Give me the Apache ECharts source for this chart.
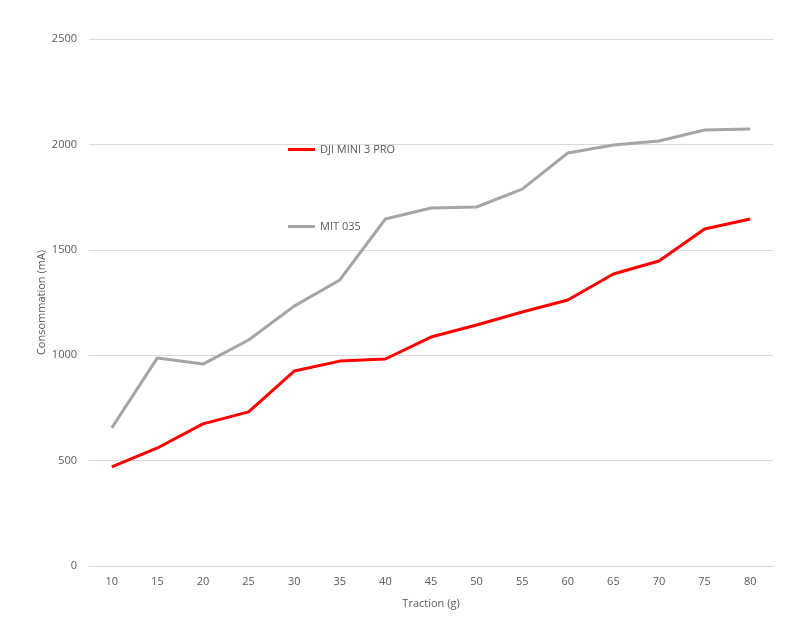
<!DOCTYPE html>
<html>
<head>
<meta charset="utf-8">
<script src="https://cdn.jsdelivr.net/npm/echarts@6/dist/echarts.min.js"></script>
<style>
  html, body { margin: 0; padding: 0; background: #fff; }
  #chart { width: 800px; height: 639px; }
</style>
</head>
<body>
<div id="chart"></div>
<script>
  const traction = ['10', '15', '20', '25', '30', '35', '40', '45', '50', '55', '60', '65', '70', '75', '80'];
  const djiMini3Pro = [470, 560, 674, 731, 925, 972, 982, 1086, 1143, 1205, 1262, 1385, 1447, 1599, 1646];
  const mit035 = [655, 987, 958, 1072, 1233, 1357, 1646, 1698, 1703, 1788, 1959, 1997, 2016, 2068, 2073];

  const font = '"Open Sans", "Noto Sans", sans-serif';
  const chart = echarts.init(document.getElementById('chart'));
  chart.setOption({
    animation: false,
    textStyle: { fontFamily: font },
    grid: { left: 89, right: 27, top: 39, bottom: 73, containLabel: false },
    legend: {
      orient: 'vertical',
      left: 283,
      top: 139,
      itemGap: 66,
      itemWidth: 27,
      itemHeight: 3,
      icon: 'rect',
      textStyle: { color: '#595959', fontSize: 11, fontFamily: font },
      data: ['DJI MINI 3 PRO', 'MIT 035']
    },
    xAxis: {
      type: 'category',
      data: traction,
      name: 'Traction (g)',
      nameLocation: 'middle',
      nameGap: 32,
      nameTextStyle: { color: '#595959', fontSize: 11 },
      axisLine: { show: true, lineStyle: { color: '#d9d9d9' } },
      axisTick: { show: false },
      axisLabel: { color: '#595959', fontSize: 11, margin: 10 },
      splitLine: { show: false }
    },
    yAxis: {
      type: 'value',
      min: 0,
      max: 2500,
      interval: 500,
      name: 'Consommation (mA)',
      nameLocation: 'middle',
      nameGap: 42,
      nameMoveOverlap: false,
      nameTextStyle: { color: '#595959', fontSize: 11 },
      axisLine: { show: false },
      axisTick: { show: false },
      axisLabel: { color: '#595959', fontSize: 11, margin: 12, formatter: v => String(v) },
      splitLine: { show: true, lineStyle: { color: '#d9d9d9', width: 1 } }
    },
    series: [{
      name: 'DJI MINI 3 PRO',
      type: 'line',
      symbol: 'none',
      lineStyle: { color: '#ff0000', width: 3 },
      itemStyle: { color: '#ff0000' },
      data: djiMini3Pro
    }, {
      name: 'MIT 035',
      type: 'line',
      symbol: 'none',
      lineStyle: { color: '#a5a5a5', width: 3 },
      itemStyle: { color: '#a5a5a5' },
      data: mit035
    }]
  });
</script>
</body>
</html>
